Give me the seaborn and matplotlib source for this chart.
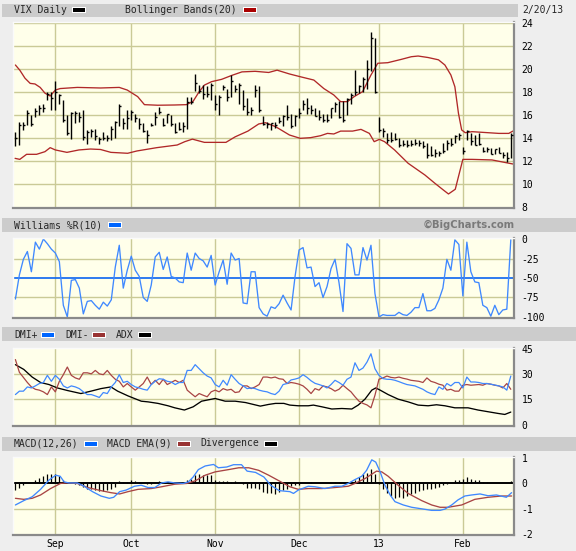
import numpy as np
import pandas as pd
import matplotlib
matplotlib.use("Agg")
import matplotlib.pyplot as plt
import seaborn as sns
from matplotlib.patches import Rectangle

W, H = 576, 551

# trading days from Aug 20 2012 to Feb 20 2013, numbered 0..124
month_days = [10, 29, 50, 71, 91, 112]
month_labels = ["Sep", "Oct", "Nov", "Dec", "13", "Feb"]

# ---------- VIX daily bars ----------
vix_high = [14.55, 15.4, 15.4, 16.4, 16.0, 16.6, 16.9, 17.0, 18.0, 18.0,
            19.0, 17.8, 17.3, 16.0, 16.3, 16.35, 16.3, 16.4, 14.7, 14.8,
            14.8, 14.1, 14.55, 14.25, 15.0, 15.5, 17.0, 15.7, 16.4, 16.4,
            16.1, 15.7, 15.3, 14.7, 15.3, 16.3, 16.7, 15.7, 16.1, 16.0,
            15.3, 15.4, 15.4, 17.6, 17.6, 19.6, 18.6, 18.6, 18.5, 18.75,
            17.7, 17.7, 18.6, 18.3, 19.5, 18.6, 18.75, 18.2, 17.45, 16.7,
            18.6, 18.5, 15.9, 15.4, 15.3, 15.4, 15.8, 16.0, 16.9, 16.1,
            16.0, 16.6, 17.3, 17.5, 16.9, 16.6, 16.4, 16.1, 16.1, 16.6,
            17.1, 17.2, 17.2, 17.5, 17.9, 19.9, 18.6, 19.3, 20.8, 23.25,
            22.7, 15.86, 14.84, 14.4, 14.55, 14.41, 13.97, 13.83, 13.83, 13.83,
            13.91, 13.83, 13.7, 13.54, 13.33, 13.04, 12.87, 13.54, 13.83, 13.97,
            14.26, 14.41, 13.25, 14.7, 14.41, 14.26, 14.41, 13.25, 13.25, 13.1,
            13.05, 13.25, 12.81, 12.81, 14.4]
vix_low = [13.3, 13.4, 14.7, 15.1, 15.0, 15.85, 16.0, 16.3, 17.3, 16.4,
           16.4, 17.0, 15.4, 14.3, 13.9, 15.3, 15.4, 13.8, 13.5, 14.1,
           13.8, 13.5, 13.8, 13.7, 13.8, 14.0, 15.0, 14.8, 14.8, 15.6,
           15.4, 14.8, 14.55, 13.6, 15.0, 15.1, 16.1, 15.0, 15.3, 15.0,
           14.4, 14.7, 14.55, 14.8, 17.0, 18.1, 17.9, 17.4, 17.6, 17.3,
           16.4, 16.0, 18.2, 17.2, 17.6, 18.0, 17.0, 16.4, 16.0, 16.0,
           17.6, 16.3, 15.1, 14.9, 14.7, 14.85, 15.3, 15.0, 15.6, 14.85,
           15.0, 15.7, 16.4, 16.1, 16.1, 15.9, 15.6, 15.4, 15.4, 15.7,
           16.3, 15.7, 15.4, 16.0, 17.0, 17.7, 17.9, 18.0, 18.3, 19.8,
           17.9, 14.55, 14.12, 13.54, 13.68, 13.83, 13.25, 13.33, 13.25, 13.33,
           13.39, 13.33, 13.1, 12.29, 12.46, 12.38, 12.46, 12.67, 12.96, 13.33,
           13.54, 13.83, 12.58, 13.83, 13.39, 13.39, 13.39, 12.81, 12.75, 12.58,
           12.6, 12.67, 12.29, 11.94, 12.23]
vix_close = [14.0, 15.1, 15.1, 16.2, 15.2, 16.35, 16.65, 16.6, 17.8, 17.45,
             18.0, 17.7, 15.6, 14.4, 16.2, 16.2, 15.8, 14.05, 14.5, 14.6,
             14.2, 13.9, 14.0, 14.0, 14.8, 15.4, 16.8, 15.3, 15.7, 16.3,
             15.7, 15.2, 14.6, 14.3, 15.1, 15.8, 16.3, 15.1, 16.1, 15.2,
             14.5, 14.8, 15.0, 17.1, 17.1, 18.8, 18.1, 17.8, 17.8, 18.6,
             17.0, 17.6, 18.4, 17.6, 19.0, 18.3, 18.6, 16.8, 16.3, 16.4,
             18.2, 16.4, 15.2, 15.2, 15.3, 15.1, 15.5, 15.9, 15.8, 15.0,
             15.9, 16.2, 17.0, 16.6, 16.4, 15.9, 15.8, 15.6, 15.6, 16.6,
             17.0, 15.8, 15.6, 17.4, 17.7, 18.0, 18.5, 19.1, 20.0, 22.7,
             18.0, 14.7, 14.6, 13.8, 13.8, 13.9, 13.4, 13.5, 13.4, 13.5,
             13.6, 13.6, 13.3, 12.5, 12.5, 12.7, 12.7, 12.9, 13.6, 13.5,
             14.2, 14.3, 12.9, 14.6, 13.7, 13.4, 13.5, 12.9, 13.0, 12.6,
             13.0, 12.7, 12.5, 12.3, 14.3]

# ---------- Bollinger Bands(20), read as (day, value) vertices ----------
bb_upper_pts = [(0, 20.35), (1.1, 19.9), (2.4, 19.2), (3.7, 18.75), (4.9, 18.7), (6.2, 18.4),
                (7.4, 17.9), (8.7, 17.65), (10, 18.17), (11.2, 18.3), (15.5, 18.4), (21.3, 18.35),
                (26, 18.4), (28, 18.17), (30.6, 17.6), (32.3, 16.9), (35.6, 16.85), (39.8, 16.87),
                (42.8, 16.9), (44.5, 17.2), (46, 18.03), (47.3, 18.6), (49.1, 18.9), (51.6, 19.1),
                (54.2, 19.45), (56.7, 19.75), (60, 19.8), (63.4, 19.7), (65.5, 19.9), (68.6, 19.57),
                (71.3, 19.33), (74.7, 19.04), (77.2, 18.3), (79.7, 17.74), (81.4, 17.16), (83.1, 17.16),
                (84.8, 17.6), (86.9, 18.03), (89, 19.48), (90.7, 20.5), (93.2, 20.55), (96.6, 20.84),
                (99.1, 21.07), (100.8, 21.13), (103.3, 21.0), (105.9, 20.8), (107.5, 20.35), (109, 19.48),
                (110, 18.46), (110.9, 16.14), (111.7, 14.7), (112.6, 14.46), (114.3, 14.55), (121, 14.4),
                (123.5, 14.4), (124.5, 14.6)]
bb_lower_pts = [(-0.1, 12.23), (1.1, 12.14), (2.8, 12.58), (5.3, 12.58), (7.4, 12.81), (8.7, 13.16),
                (10, 12.96), (12.9, 12.75), (15.9, 12.96), (18.8, 13.04), (21.3, 13.0), (23.9, 12.75),
                (28.1, 12.67), (30.4, 12.87), (35.4, 13.16), (40.5, 13.39), (42.4, 13.68), (44.3, 13.9),
                (47.3, 13.62), (52.7, 13.62), (55, 14.1), (58.2, 14.6), (60.9, 15.22), (62.6, 15.33),
                (65.1, 14.99), (68.6, 14.26), (71.3, 13.97), (73.9, 14.03), (76.4, 14.2), (78.1, 14.4),
                (79.7, 14.35), (81.4, 14.6), (84.4, 14.6), (86.5, 14.75), (88.6, 14.4), (89.8, 13.68),
                (91.1, 13.88), (92.4, 13.68), (94.9, 12.96), (98.3, 11.8), (102.5, 10.78), (105, 10.06),
                (107.1, 9.48), (108.4, 9.13), (110.1, 9.54), (110.9, 10.64), (112, 12.14), (114.3, 12.14),
                (119.3, 12.09), (122.7, 11.86), (124.5, 11.74)]

# ---------- Williams %R(10) ----------
williams_r = [-77, -46, -26, -16, -42, -4, -13, 0, -6, -13,
              -18, -29, -85, -100, -53, -52, -63, -96, -80, -79,
              -85, -90, -81, -86, -78, -36, -8, -63, -40, -22,
              -40, -48, -75, -80, -59, -23, -17, -39, -23, -48,
              -50, -55, -56, -18, -40, -18, -25, -28, -36, -21,
              -59, -42, -27, -58, -18, -27, -25, -82, -83, -42,
              -42, -88, -96, -99, -87, -89, -83, -72, -82,
              -91, -48, -14, -11, -37, -36, -61, -56, -75, -61,
              -38, -26, -56, -93, -6, -12, -46, -46, -11, -27,
              -8, -70, -100, -97, -98, -98, -98, -94, -97, -98,
              -94, -88, -88, -70, -92, -92, -89, -78, -63, -26,
              -40, -1, -7, -73, -4, -42, -55, -56, -85, -88,
              -99, -85, -97, -91, -90, -1]

# ---------- DMI ----------
dmi_plus = [17.9, 19.9, 19.9, 22.4, 21.8, 23.0, 24.4, 25.0, 29.2, 25.7,
            29.2, 26.9, 23.0, 21.8, 23.0, 22.4, 21.4, 19.5, 17.9, 17.9,
            17.1, 16.2, 19.1, 18.5, 22.4, 25.0, 29.6, 25.0, 25.7, 23.8,
            22.4, 21.8, 21.0, 20.5, 23.8, 25.7, 27.2, 26.9, 25.7, 25.3,
            23.8, 25.0, 25.0, 32.1, 32.1, 35.5, 33.1, 30.7, 28.8, 27.7,
            23.8, 22.4, 26.3, 23.4, 29.6, 26.9, 24.4, 23.0, 21.4, 21.8,
            21.4, 20.5, 19.9, 19.5, 18.5, 17.9, 19.9, 23.8, 24.4,
            26.5, 27.0, 27.7, 29.6, 28.0, 26.0, 24.5, 23.8, 23.0, 21.8,
            23.8, 26.3, 25.0, 23.4, 26.9, 28.2, 36.6, 32.1, 33.5, 37.0,
            41.9, 33.1, 29.2, 27.3, 26.9, 26.8, 26.3, 25.5, 24.6, 23.8,
            23.4, 23.0, 22.0, 21.0, 19.5, 18.5, 17.9, 22.4, 21.0, 24.4,
            23.0, 25.0, 25.0, 21.8, 28.2, 25.3, 25.3, 25.0, 24.4, 24.4,
            24.0, 23.5, 23.0, 22.4, 20.5, 28.8]
dmi_minus = [38.5, 31.0, 28.0, 25.0, 22.4, 21.0, 20.5, 19.5, 17.9, 22.4,
             19.5, 25.7, 29.6, 34.1, 29.2, 27.7, 26.9, 30.7, 30.7, 30.1,
             32.1, 30.1, 29.6, 32.1, 29.2, 26.9, 25.7, 22.4, 24.4, 22.4,
             20.5, 22.4, 24.4, 28.2, 23.8, 26.3, 23.8, 26.9, 23.8, 25.0,
             26.3, 25.0, 26.3, 20.5, 18.5, 16.6, 18.5, 17.5, 16.6, 19.5,
             20.5, 19.5, 21.4, 20.5, 21.0, 19.1, 19.5, 23.0, 23.0, 21.4,
             22.4, 23.8, 28.2, 28.2, 27.7, 28.2, 27.2, 26.9, 24.4,
             25.0, 24.6, 24.0, 23.0, 21.0, 18.5, 21.4, 20.5, 23.0, 22.4,
             21.4, 19.9, 21.0, 23.4, 21.4, 19.5, 16.6, 14.0, 12.7, 11.8,
             10.1, 17.5, 26.9, 27.7, 28.8, 28.0, 27.7, 28.2, 27.5, 27.0,
             26.3, 26.0, 25.7, 25.0, 27.7, 25.7, 25.0, 24.0, 23.4, 20.5,
             21.0, 19.9, 19.9, 23.4, 23.8, 23.4, 23.6, 23.8, 23.4, 24.4,
             24.0, 23.4, 23.0, 21.8, 24.4, 21.0]
adx_pts = [(0, 35.5), (2.1, 32.7), (4.2, 28.2), (6.3, 25.0), (8.4, 23.8), (10.5, 21.8), (13, 20.3),
           (16.4, 18.5), (18.9, 19.9), (21.4, 21.4), (23.9, 22.4), (25.6, 19.9), (28.2, 17.1),
           (31.5, 14.0), (33.2, 13.6), (35.7, 12.7), (38.2, 11.3), (39.9, 10.1), (42.3, 8.8),
           (44.5, 10.7), (46.6, 14.0), (50, 15.6), (52.5, 14.0), (55, 14.0), (57.6, 13.2),
           (61.3, 11.1), (63.4, 12.1), (65.1, 12.7), (67.2, 12.7), (68.7, 11.7), (70.8, 11.3),
           (73.3, 11.3), (74.6, 11.7), (76.7, 10.7), (79.2, 9.4), (81.7, 9.7), (84.2, 9.4),
           (85.8, 11.7), (87.5, 15.2), (89.2, 20.5), (90.2, 21.8), (91.3, 20.5), (93.3, 17.9),
           (95.8, 15.2), (98.3, 13.6), (100.8, 11.7), (103.3, 11.3), (105.4, 11.9), (107.5, 11.3),
           (110, 10.1), (113.3, 10.1), (115.8, 8.8), (118.3, 7.8), (120.8, 6.8), (122.5, 6.2),
           (124, 7.6)]

# ---------- MACD(12,26) ----------
macd_pts = [(0, -0.85), (2.1, -0.68), (4.2, -0.53), (6.3, -0.24), (8.4, 0.12), (10.1, 0.31),
            (11.2, 0.27), (12.2, 0.05), (13.4, 0.01), (15.5, 0.01), (17.2, -0.12), (19.3, -0.33),
            (21.4, -0.5), (23.5, -0.59), (24.6, -0.55), (26.1, -0.33), (27.7, -0.27), (29.8, -0.12),
            (31.5, -0.08), (33.2, -0.17), (34.9, -0.17), (36.6, 0.01), (38.2, 0.05), (39.9, 0.01),
            (42, -0.01), (43.3, 0.05), (44.5, 0.24), (45.8, 0.53), (47.5, 0.67), (49.6, 0.73),
            (50.8, 0.6), (52.9, 0.63), (54.6, 0.72), (56.6, 0.72), (58, 0.47), (60.1, 0.42),
            (62.2, 0.24), (63.9, -0.08), (66, -0.29), (68.7, -0.33), (69.6, -0.4), (70.8, -0.27),
            (73.3, -0.12), (75, -0.14), (77.5, -0.21), (80, -0.12), (81.7, -0.12), (83.3, -0.01),
            (85, 0.14), (86.7, 0.27), (87.9, 0.5), (89.2, 0.91), (90.2, 0.82), (91.3, 0.44),
            (92.5, -0.08), (93.8, -0.46), (95, -0.72), (97.1, -0.85), (99.2, -0.94), (101.7, -1.0),
            (104.2, -1.06), (106.3, -1.06), (107.5, -1.01), (109.2, -0.85), (110.8, -0.65),
            (112.5, -0.5), (114.2, -0.46), (116.3, -0.42), (118.3, -0.49), (120.4, -0.46),
            (122.9, -0.55), (124.2, -0.37)]
macd_ema_pts = [(0, -0.59), (2.1, -0.63), (4.2, -0.59), (6.3, -0.46), (8.8, -0.21), (11.3, -0.01),
                (13, 0.01), (15.5, -0.01), (18.1, -0.17), (21.4, -0.29), (23.9, -0.37), (26.1, -0.42),
                (28.2, -0.33), (30.7, -0.24), (34, -0.21), (36.6, -0.14), (39.9, -0.04), (42.9, -0.01),
                (45, 0.09), (47.5, 0.31), (50, 0.44), (53.4, 0.53), (55.9, 0.6), (58.4, 0.6),
                (60.9, 0.5), (63.4, 0.31), (66, 0.09), (68.7, -0.14), (70.8, -0.24), (73.3, -0.21),
                (76.7, -0.21), (80, -0.17), (83.3, -0.12), (85, -0.01), (87.5, 0.18), (90.4, 0.47),
                (91.7, 0.44), (93.3, 0.27), (95.8, -0.08), (98.3, -0.4), (101.7, -0.68), (104.2, -0.85),
                (106.3, -0.94), (108.3, -0.94), (111.7, -0.85), (115, -0.63), (118.3, -0.55),
                (121.7, -0.5), (124.2, -0.5)]
divergence = [-0.27, -0.17, -0.08, 0.0, 0.02, 0.12, 0.21, 0.27, 0.35, 0.35,
              0.37, 0.27, 0.12, 0.0, -0.01, -0.02, -0.08, -0.14, -0.21, -0.24,
              -0.27, -0.29, -0.31, -0.27, -0.21, -0.14, 0.09, 0.05, 0.05, 0.14,
              0.09, 0.05, 0.01, -0.04, -0.04, 0.01, 0.09, 0.05, 0.01, 0.01,
              -0.01, 0.0, 0.0, 0.12, 0.18, 0.31, 0.35, 0.31, 0.31, 0.31,
              0.12, 0.09, 0.08, 0.08, 0.05, 0.09, 0.01, -0.04, -0.17, -0.17,
              -0.17, -0.24, -0.33, -0.37, -0.40, -0.42, -0.33, -0.27, -0.24,
              -0.12, -0.08, -0.06, 0.0, 0.0, 0.05, 0.0, 0.0, 0.0, 0.0,
              0.0, 0.05, 0.05, 0.02, 0.05, 0.09, 0.14, 0.24, 0.35, 0.40,
              0.56, 0.37, -0.05, -0.24, -0.40, -0.50, -0.59, -0.53, -0.59, -0.50,
              -0.42, -0.37, -0.29, -0.27, -0.24, -0.21, -0.17, -0.14, -0.08, -0.02,
              0.0, 0.14, 0.14, 0.18, 0.24, 0.18, 0.14, 0.12, 0.05, 0.03,
              0.01, 0.0, 0.0, 0.0, 0.0, 0.09]

# ---------- styling ----------
FIG_BG = "#EEEEEE"
HEADER_BG = "#CCCCCC"
PLOT_BG = "#FFFFEA"
GRID = "#CACA96"
BLUE = "#3F88FF"
RED = "#B02828"
BROWN_RED = "#A84444"
MONO = "DejaVu Sans Mono"

sns.set_style("white")
plt.rcParams["font.family"] = [MONO, "DejaVu Sans"]

days = np.arange(len(vix_close))
daily = pd.DataFrame({
    "day": days, "high": vix_high, "low": vix_low, "close": vix_close,
    "wr": williams_r, "dmi_plus": dmi_plus, "dmi_minus": dmi_minus, "div": divergence,
})


def pts_frame(pts):
    return pd.DataFrame(pts, columns=["day", "value"])


fig = plt.figure(figsize=(W / 100, H / 100), dpi=100, facecolor=FIG_BG)


def px_axes(x0, y0, x1, y1):
    return fig.add_axes([x0 / W, 1 - y1 / H, (x1 - x0) / W, (y1 - y0) / H])


def header_bar(y0, y1, x1=W):
    fig.add_artist(Rectangle((2 / W, 1 - y1 / H), (x1 - 2) / W, (y1 - y0) / H,
                             transform=fig.transFigure, facecolor=HEADER_BG,
                             edgecolor="none", zorder=0))


def swatch(x0, yc, color):
    fig.add_artist(Rectangle(((x0 - 1) / W, 1 - (yc + 3) / H), 14 / W, 6 / H,
                             transform=fig.transFigure, facecolor="white", edgecolor="none"))
    fig.add_artist(Rectangle((x0 / W, 1 - (yc + 2) / H), 12 / W, 4 / H,
                             transform=fig.transFigure, facecolor=color, edgecolor="none"))


def label(x, yc, s, **kw):
    fig.text(x / W, 1 - yc / H, s, ha=kw.pop("ha", "left"), va="center",
             fontsize=kw.pop("fontsize", 7), family=kw.pop("family", MONO), **kw)


def style_axes(ax, ylim, yticks, ylabels, grid_y):
    ax.set_facecolor(PLOT_BG)
    ax.set_xlim(-0.6, 124.8)
    ax.set_ylim(*ylim)
    ax.set_yticks(yticks)
    ax.set_yticklabels(ylabels)
    ax.yaxis.tick_right()
    ax.tick_params(axis="y", length=0, pad=5.5, labelsize=7, labelcolor="black")
    ax.set_xticks([])
    ax.set_xlabel("")
    ax.set_ylabel("")
    for d in month_days:
        ax.axvline(d, color=GRID, lw=1.0, zorder=0.5)
    for g in grid_y:
        ax.axhline(g, color=GRID, lw=1.0, zorder=0.5)
    for side in ["top", "left"]:
        ax.spines[side].set_color("#FAFAFA")
        ax.spines[side].set_linewidth(1.0)
    for side in ["bottom", "right"]:
        ax.spines[side].set_color("#8A8A8A")
        ax.spines[side].set_linewidth(1.6)


# ---------- headers ----------
header_bar(4, 17, x1=518)
header_bar(218, 232)
header_bar(327, 341)
header_bar(437, 451)

label(14, 10, "VIX Daily")
swatch(73, 10, "black")
label(125, 10, "Bollinger Bands(20)")
swatch(244, 10, "#AA0000")
label(522, 9.5, "2/20/13")

label(14, 225.5, "Williams %R(10)")
swatch(109, 225, "#0066FF")
label(515, 225, "\u00a9BigCharts.com", ha="right", family="DejaVu Sans",
      fontsize=7.2, fontweight="bold", color="#7A7A7A")

label(14, 334.5, "DMI+")
swatch(42, 335, "#0066FF")
label(65, 334.5, "DMI-")
swatch(93, 335, "#993333")
label(116, 334.5, "ADX")
swatch(139, 335, "black")

label(14, 443.5, "MACD(12,26)")
swatch(85, 444, "#0066FF")
label(107, 443.5, "MACD EMA(9)")
swatch(178, 444, "#993333")
label(200, 443.5, "Divergence")
swatch(265, 444, "black")

# ---------- panel 1: price bars + Bollinger ----------
ax1 = px_axes(13, 22, 514, 208)
sns.lineplot(data=pts_frame(bb_upper_pts), x="day", y="value", ax=ax1, color=RED,
             lw=0.95, estimator=None, sort=False, legend=False)
sns.lineplot(data=pts_frame(bb_lower_pts), x="day", y="value", ax=ax1, color=RED,
             lw=0.95, estimator=None, sort=False, legend=False)
ax1.vlines(daily["day"], daily["low"], daily["high"], color="black", lw=1.0, zorder=3)
ax1.hlines(daily["close"], daily["day"], daily["day"] + 0.45, color="black", lw=1.0, zorder=3)
style_axes(ax1, (7.91, 24.09), list(range(8, 25, 2)), [str(v) for v in range(8, 25, 2)],
           list(range(10, 25, 2)))

# ---------- panel 2: Williams %R ----------
ax2 = px_axes(13, 238, 514, 318)
ax2.axhline(-50, color="#0A64F0", lw=1.2, zorder=1)
sns.lineplot(data=daily, x="day", y="wr", ax=ax2, color=BLUE, lw=0.95,
             estimator=None, sort=False, legend=False)
style_axes(ax2, (-101.3, 1.3), [0, -25, -50, -75, -100], ["0", "-25", "-50", "-75", "-100"],
           [-25, -75])

# ---------- panel 3: DMI ----------
ax3 = px_axes(13, 348, 514, 426)
sns.lineplot(data=pts_frame(adx_pts), x="day", y="value", ax=ax3, color="black", lw=0.95,
             estimator=None, sort=False, legend=False)
sns.lineplot(data=daily, x="day", y="dmi_minus", ax=ax3, color=BROWN_RED, lw=0.9,
             estimator=None, sort=False, legend=False)
sns.lineplot(data=daily, x="day", y="dmi_plus", ax=ax3, color=BLUE, lw=0.9,
             estimator=None, sort=False, legend=False)
style_axes(ax3, (-0.6, 45.3), [0, 15, 30, 45], ["0", "15", "30", "45"], [15, 30])

# ---------- panel 4: MACD ----------
ax4 = px_axes(13, 457, 514, 535)
ax4.vlines(daily["day"], 0, daily["div"], color="black", lw=0.9, zorder=2)
ax4.axhline(0, color="black", lw=1.4, zorder=2)
sns.lineplot(data=pts_frame(macd_ema_pts), x="day", y="value", ax=ax4, color=BROWN_RED,
             lw=0.95, estimator=None, sort=False, legend=False)
sns.lineplot(data=pts_frame(macd_pts), x="day", y="value", ax=ax4, color=BLUE,
             lw=0.95, estimator=None, sort=False, legend=False)
style_axes(ax4, (-2.02, 1.02), [1, 0, -1, -2], ["1", "0", "-1", "-2"], [-1])
ax4.set_xticks(month_days)
ax4.set_xticklabels(month_labels)
ax4.tick_params(axis="x", length=0, pad=3, labelsize=7, labelcolor="black")

fig.savefig("out.png", dpi=100, facecolor=fig.get_facecolor())
